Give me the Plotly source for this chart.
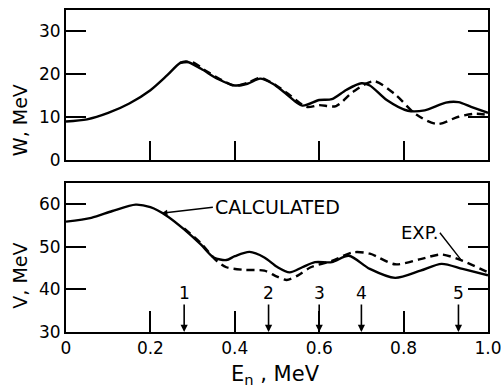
import plotly.graph_objects as go
from plotly.subplots import make_subplots

# ---- data ----
w_calc_E = [0.00, 0.05, 0.10, 0.15, 0.20, 0.24, 0.27, 0.285, 0.32, 0.36, 0.40, 0.43, 0.46, 0.49, 0.52,
            0.56, 0.60, 0.63, 0.665, 0.70, 0.72, 0.76, 0.81, 0.85, 0.90, 0.93, 0.96, 1.00]
w_calc = [9.0, 9.5, 11.0, 13.2, 16.3, 19.8, 22.6, 23.0, 21.3, 18.9, 17.4, 17.8, 19.0, 17.8, 15.6,
          12.7, 14.0, 14.2, 16.4, 17.9, 17.4, 14.0, 11.5, 11.6, 13.4, 13.5, 12.4, 11.0]
w_exp_E = [0.27, 0.30, 0.33, 0.37, 0.40, 0.43, 0.46, 0.49, 0.53, 0.57, 0.60, 0.64, 0.68, 0.73,
           0.78, 0.83, 0.88, 0.93, 0.97, 1.00]
w_exp = [22.7, 22.8, 20.9, 18.6, 17.3, 18.0, 19.2, 17.9, 15.2, 12.4, 12.8, 12.6, 15.9, 18.4,
         15.3, 10.6, 8.4, 10.1, 10.8, 10.5]

v_calc_E = [0.00, 0.06, 0.11, 0.165, 0.20, 0.24, 0.28, 0.32, 0.35, 0.38, 0.40, 0.435, 0.47, 0.50,
            0.53, 0.56, 0.59, 0.63, 0.67, 0.72, 0.78, 0.84, 0.89, 0.94, 1.00]
v_calc = [55.9, 56.8, 58.4, 59.9, 59.3, 57.2, 54.1, 50.5, 47.5, 46.9, 47.8, 48.8, 47.5, 45.3,
          44.0, 45.2, 46.4, 46.4, 47.9, 44.8, 42.7, 44.4, 46.0, 44.8, 43.3]
v_exp_E = [0.28, 0.32, 0.357, 0.38, 0.42, 0.47, 0.50, 0.523, 0.55, 0.58, 0.63, 0.68, 0.72, 0.78,
           0.84, 0.89, 0.94, 1.00]
v_exp = [54.3, 50.8, 46.7, 45.2, 44.6, 44.4, 43.0, 42.2, 43.3, 45.2, 46.7, 48.7, 48.4, 45.9,
         47.1, 48.2, 46.7, 44.0]

marker_E = [0.28, 0.48, 0.60, 0.70, 0.93]
marker_labels = ["1", "2", "3", "4", "5"]

x_tickvals = [0, 0.2, 0.4, 0.6, 0.8, 1.0]
x_ticktext = ["0", "0.2", "0.4", "0.6", "0.8", "1.0"]
w_tickvals = [0, 10, 20, 30]
v_tickvals = [30, 40, 50, 60]

# annotation anchors (data coords)
calc_point = (0.227, 57.9)
calc_text = (0.348, 59.3)
exp_point = (0.938, 46.7)
exp_text = (0.886, 53.3)

FONT = "DejaVu Sans"
fig = make_subplots(rows=2, cols=1, shared_xaxes=False, vertical_spacing=0.07)

line_solid = dict(color="black", width=2.4, shape="spline", smoothing=0.8)
line_dash = dict(color="black", width=2.4, shape="spline", smoothing=0.8, dash="8px,5px")

fig.add_trace(go.Scatter(x=w_calc_E, y=w_calc, mode="lines", line=line_solid, showlegend=False), row=1, col=1)
fig.add_trace(go.Scatter(x=w_exp_E, y=w_exp, mode="lines", line=line_dash, showlegend=False), row=1, col=1)
fig.add_trace(go.Scatter(x=v_calc_E, y=v_calc, mode="lines", line=line_solid, showlegend=False), row=2, col=1)
fig.add_trace(go.Scatter(x=v_exp_E, y=v_exp, mode="lines", line=line_dash, showlegend=False), row=2, col=1)

axis_common = dict(showgrid=False, zeroline=False, showline=True, linecolor="black", linewidth=2,
                   ticks="inside", tickcolor="black", tickwidth=2, automargin=False,
                   tickfont=dict(family=FONT, size=17, color="black"))

fig.update_xaxes(range=[0, 1.0], mirror=True, tickvals=[0.2, 0.4, 0.6, 0.8], ticklen=19,
                 showticklabels=False, domain=[0, 1], row=1, col=1, **axis_common)
fig.update_xaxes(range=[0, 1.0], mirror=True, tickvals=x_tickvals, ticktext=x_ticktext, ticklen=21,
                 showticklabels=True, ticklabeloverflow="allow", domain=[0, 1], row=2, col=1,
                 **axis_common)
fig.update_yaxes(range=[0, 35], mirror="allticks", tickvals=w_tickvals, ticklen=20,
                 domain=[0.534, 1.0], row=1, col=1, **axis_common)
fig.update_yaxes(range=[30, 65], mirror="allticks", tickvals=v_tickvals, ticklen=20,
                 domain=[0.0, 0.463], row=2, col=1, **axis_common)

annotations = []
for e, lab in zip(marker_E, marker_labels):
    annotations.append(dict(x=e, y=30, xref="x2", yref="y2", text=lab, showarrow=True,
                            ax=0, ay=-39, arrowhead=2, arrowsize=0.9, arrowwidth=1.6,
                            arrowcolor="black", standoff=0,
                            font=dict(family=FONT, size=17, color="black")))

annotations.append(dict(x=calc_point[0], y=calc_point[1], xref="x2", yref="y2",
                        ax=calc_text[0], ay=calc_text[1], axref="x2", ayref="y2",
                        text="CALCULATED", xanchor="left", yanchor="middle", showarrow=True,
                        arrowhead=2, arrowsize=0.8, arrowwidth=1.4, arrowcolor="black",
                        font=dict(family=FONT, size=19, color="black")))
annotations.append(dict(x=exp_point[0], y=exp_point[1], xref="x2", yref="y2",
                        ax=exp_text[0], ay=exp_text[1], axref="x2", ayref="y2",
                        text="EXP.", xanchor="right", yanchor="middle", showarrow=True,
                        arrowhead=0, arrowwidth=1.4, arrowcolor="black",
                        font=dict(family=FONT, size=18, color="black")))

annotations.append(dict(x=-0.109, y=0.658, xref="paper", yref="paper", text="W, MeV", textangle=-90,
                        showarrow=False, xanchor="center", yanchor="middle",
                        font=dict(family=FONT, size=19, color="black")))
annotations.append(dict(x=-0.109, y=0.175, xref="paper", yref="paper", text="V, MeV", textangle=-90,
                        showarrow=False, xanchor="center", yanchor="middle",
                        font=dict(family=FONT, size=19, color="black")))
annotations.append(dict(x=0.496, y=-0.133, xref="paper", yref="paper", text="E<sub>n</sub> , MeV",
                        showarrow=False, xanchor="center", yanchor="middle",
                        font=dict(family=FONT, size=21, color="black")))

fig.update_layout(width=501, height=390, margin=dict(l=66, r=13, t=10, b=58),
                  paper_bgcolor="white", plot_bgcolor="white", annotations=annotations,
                  showlegend=False)

fig.write_html("out.html")
